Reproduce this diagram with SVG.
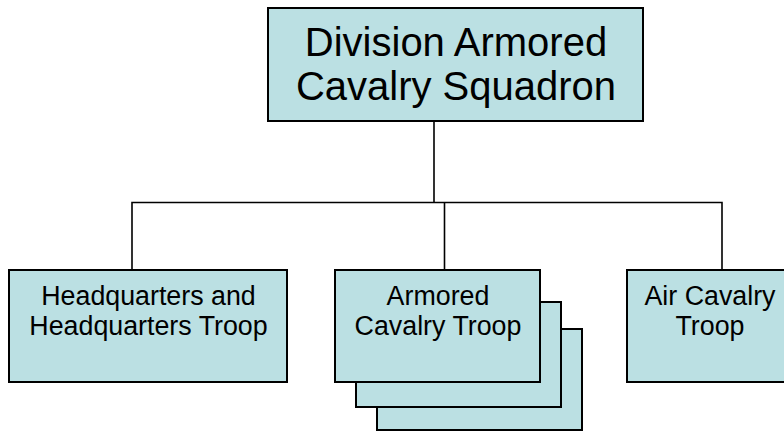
<svg xmlns="http://www.w3.org/2000/svg" width="784" height="432" viewBox="0 0 784 432">
<style>
.box{fill:#BBE0E3;stroke:#000;stroke-width:2}
.line{fill:none;stroke:#000;stroke-width:1.6}
text{font-family:"Liberation Sans",Arial,sans-serif;fill:#000;text-anchor:middle}
.big{font-size:40px}
.small{font-size:26.8px}
</style>
<rect width="784" height="432" fill="#fff"/>
<g id="connectors">
<path class="line" d="M434,121 V202.5 M132,270 V202.5 H722 V270 M444.5,202.5 V270"/>
</g>
<g id="squadron">
<rect class="box" x="268" y="8" width="375" height="113"/>
<text class="big" x="456" y="56">Division Armored</text>
<text class="big" x="456" y="100">Cavalry Squadron</text>
</g>
<g id="hq">
<rect class="box" x="9" y="270" width="278" height="112"/>
<text class="small" x="148.5" y="305">Headquarters and</text>
<text class="small" x="148.5" y="335">Headquarters Troop</text>
</g>
<g id="armored">
<rect class="box" x="377" y="329" width="205" height="101"/>
<rect class="box" x="356" y="302" width="205" height="105"/>
<rect class="box" x="335" y="270" width="205" height="112"/>
<text class="small" x="438" y="305">Armored</text>
<text class="small" x="438" y="335">Cavalry Troop</text>
</g>
<g id="air">
<rect class="box" x="627" y="270" width="166" height="112"/>
<text class="small" x="710" y="305">Air Cavalry</text>
<text class="small" x="710" y="335">Troop</text>
</g>
</svg>
